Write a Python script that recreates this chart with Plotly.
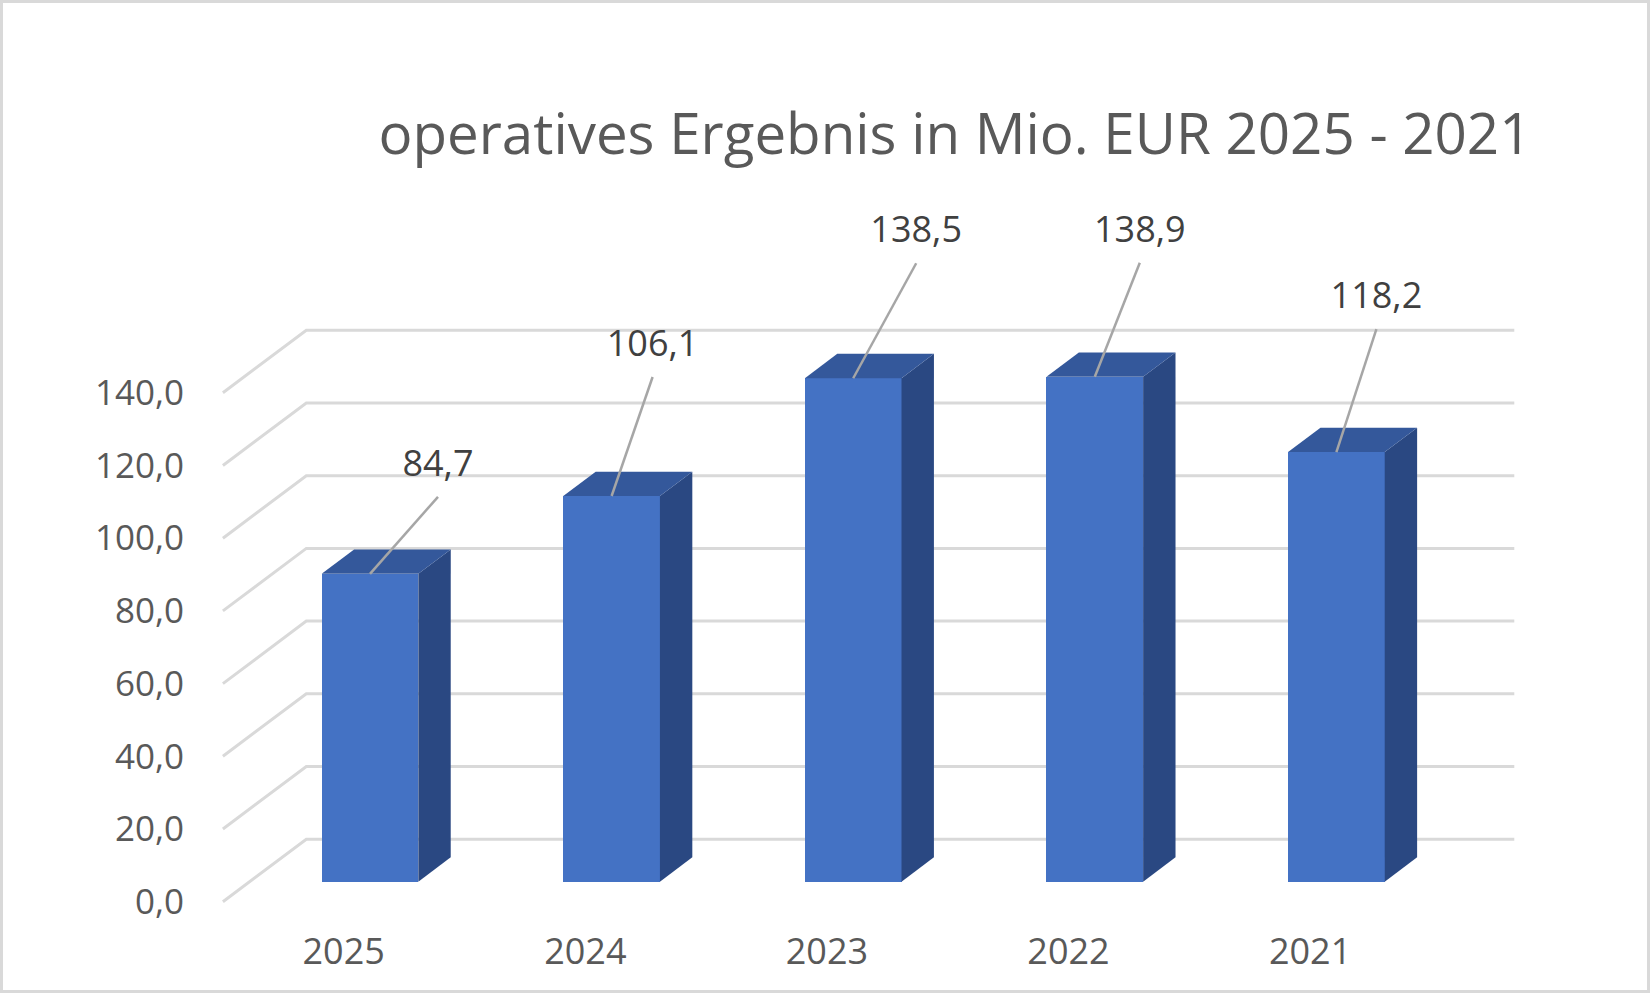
import plotly.graph_objects as go

# ---------------- data ----------------
categories = ["2025", "2024", "2023", "2022", "2021"]
values = [84.7, 106.1, 138.5, 138.9, 118.2]
y_ticks = [0, 20, 40, 60, 80, 100, 120, 140]
title_text = "operatives Ergebnis in Mio. EUR 2025 - 2021"

# ---------------- style / geometry ----------------
W, H = 1650, 993
ML, MR, MT, MB = 200, 120, 160, 66
PX_X = 241.6      # px per category
PX_Y = 3.635      # px per value unit
X0 = 343.7        # px of category 0 on the front plane
Y0 = 901.7        # px of value 0 on the front plane

WALL_DX = 83.4 / PX_X
WALL_DY = 62.5 / PX_Y
BAR_FX = 26.3 / PX_X
BAR_FY = 20.0 / PX_Y
BAR_DX = 32.4 / PX_X
BAR_DY = 24.4 / PX_Y
BAR_W = 0.4

# label offsets in px relative to top-front-center of each bar (right, up)
label_off_px = [(68, 107), (41, 149), (63, 145), (45, 144), (40, 153)]
LEADER_GAP_PX = 30

C_FRONT = "#4472C4"
C_TOP = "#34589B"
C_SIDE = "#2A4882"
C_GRID = "#D9D9D9"
C_LEADER = "#A6A6A6"
FONT = "Open Sans"

x_range = [(ML - X0) / PX_X, (W - MR - X0) / PX_X]
y_range = [(Y0 - (H - MB)) / PX_Y, (Y0 - MT) / PX_Y]

fig = go.Figure()

# gridlines: diagonal side wall + back wall (drawn below the traces)
xl, xr = -0.5, len(categories) - 0.5
for v in y_ticks:
    path = (f"M {xl} {v} L {xl + WALL_DX} {v + WALL_DY} "
            f"L {xr + WALL_DX} {v + WALL_DY}")
    fig.add_shape(type="path", path=path, xref="x", yref="y",
                  line=dict(color=C_GRID, width=3), layer="below")

xs = list(range(len(categories)))
# front faces
fig.add_trace(go.Bar(x=[i + BAR_FX for i in xs], y=values,
                     base=[BAR_FY] * len(values), width=BAR_W,
                     marker=dict(color=C_FRONT, line=dict(width=0)),
                     hoverinfo="skip", showlegend=False))

for i, v in zip(xs, values):
    bl = i + BAR_FX - BAR_W / 2
    br = i + BAR_FX + BAR_W / 2
    b0 = BAR_FY
    b1 = BAR_FY + v
    # side face
    fig.add_trace(go.Scatter(
        x=[br, br + BAR_DX, br + BAR_DX, br, br],
        y=[b0, b0 + BAR_DY, b1 + BAR_DY, b1, b0],
        fill="toself", fillcolor=C_SIDE, mode="lines",
        line=dict(width=0, color=C_SIDE), hoverinfo="skip", showlegend=False))
    # top face
    fig.add_trace(go.Scatter(
        x=[bl, bl + BAR_DX, br + BAR_DX, br, bl],
        y=[b1, b1 + BAR_DY, b1 + BAR_DY, b1, b1],
        fill="toself", fillcolor=C_TOP, mode="lines",
        line=dict(width=0, color=C_TOP), hoverinfo="skip", showlegend=False))

# leader lines and labels
lx, ly, tx, ty, tt = [], [], [], [], []
for i, v, (dxp, dyp) in zip(xs, values, label_off_px):
    cx = i + BAR_FX
    cy = BAR_FY + v
    labx = cx + dxp / PX_X
    laby = cy + dyp / PX_Y
    lx += [labx, cx, None]
    ly += [laby - LEADER_GAP_PX / PX_Y, cy, None]
    tx.append(labx)
    ty.append(laby)
    tt.append(f"{v:.1f}".replace(".", ","))

fig.add_trace(go.Scatter(x=lx, y=ly, mode="lines",
                         line=dict(color=C_LEADER, width=2.5),
                         hoverinfo="skip", showlegend=False))
fig.add_trace(go.Scatter(x=tx, y=ty, mode="text", text=tt,
                         textposition="middle center",
                         textfont=dict(family=FONT, size=36, color="#404040"),
                         cliponaxis=False, hoverinfo="skip", showlegend=False))

plot_w = W - ML - MR
plot_h = H - MT - MB
fig.add_shape(type="rect", xref="paper", yref="paper",
              x0=(1.5 - ML) / plot_w, x1=(W - 1.5 - ML) / plot_w,
              y0=-(MB - 1.5) / plot_h, y1=(H - 1.5 - MB) / plot_h,
              line=dict(color=C_GRID, width=3), layer="above")

fig.update_layout(
    width=W, height=H,
    margin=dict(l=ML, r=MR, t=MT, b=MB, pad=0),
    paper_bgcolor="white", plot_bgcolor="white",
    separators=",.",
    title=dict(text=title_text, x=955 / W, xanchor="center",
               y=1 - 134 / H, yanchor="middle", xref="container", yref="container",
               font=dict(family=FONT, size=56.5, color="#595959")),
    xaxis=dict(range=x_range, tickmode="array", tickvals=xs, ticktext=categories,
               showgrid=False, zeroline=False, showline=False, ticks="",
               tickfont=dict(family=FONT, size=36, color="#595959")),
    yaxis=dict(range=y_range, tickmode="array", tickvals=y_ticks,
               ticktext=[f"{t:.1f}".replace(".", ",") for t in y_ticks],
               showgrid=False, zeroline=False, showline=False,
               ticks="outside", ticklen=8, tickcolor="rgba(0,0,0,0)",
               tickfont=dict(family=FONT, size=35, color="#595959")),
    bargap=0,
)

fig.write_html("out.html", config={"displayModeBar": False},
               post_script="document.body.style.margin='0';")
